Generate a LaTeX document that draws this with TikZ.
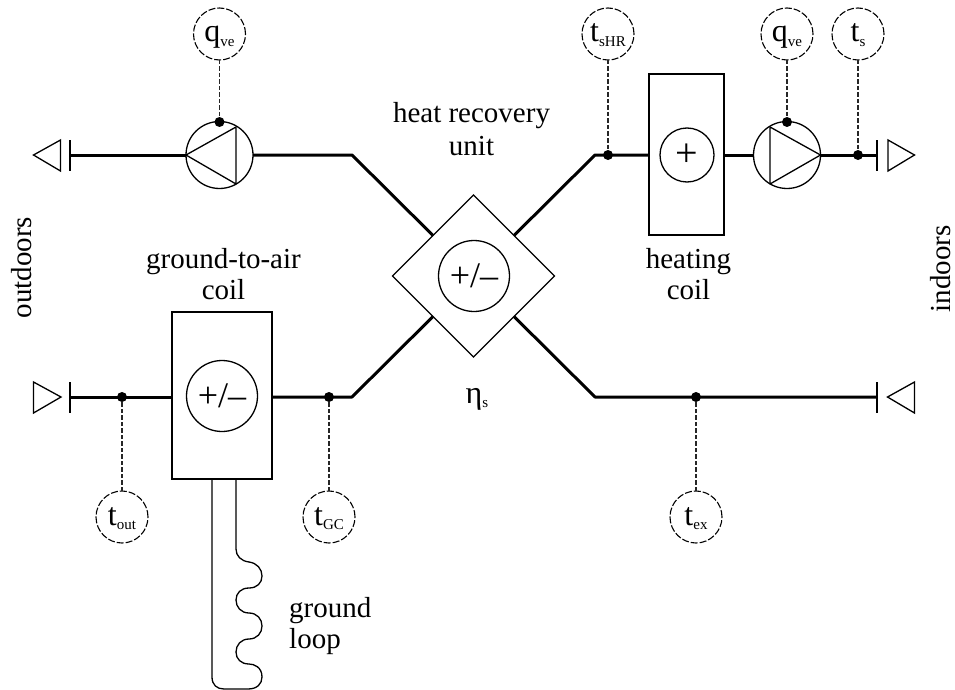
\documentclass[tikz,border=0pt]{standalone}
\usepackage{fontspec}
\setmainfont{Liberation Serif}
\usetikzlibrary{shapes.geometric}
\newcommand{\subt}[2]{#1{\fontsize{15}{15}\selectfont\raisebox{-0.3em}{#2}}}
\tikzset{
  thinln/.style={line width=1.3pt,black},
  pipe/.style={line width=3pt,black,line join=round},
  senseln/.style={line width=1.3pt,black!85,dash pattern=on 4.5pt off 2pt},
  sensor/.style={circle,draw,line width=1.1pt,dash pattern=on 7pt off 2pt,minimum size=52pt,inner sep=0pt,outer sep=0pt,font=\fontsize{32}{32}\selectfont,text height=16pt,text depth=0pt},
  jdot/.style={circle,fill=black,minimum size=10pt,inner sep=0pt,outer sep=0pt},
  unitc/.style={circle,draw,thinln,inner sep=0pt,outer sep=0pt},
  boxn/.style={rectangle,draw,thinln,fill=white,inner sep=0pt,outer sep=0pt},
  lbl/.style={font=\fontsize{29}{29}\selectfont,inner sep=0pt,anchor=base},
  sym/.style={font=\fontsize{36}{36}\selectfont,inner sep=0pt}
}
\begin{document}
\begin{tikzpicture}[x=1pt,y=-1pt]
\useasboundingbox (0,0) rectangle (955,690);
\fill[white] (0,0) rectangle (955,690);
% named points
\coordinate (barTL) at (70,155);
\coordinate (barBL) at (70,397);
\coordinate (barTR) at (877,155);
\coordinate (barBR) at (877,397);
\coordinate (bendTL) at (352,155);
\coordinate (bendBL) at (352,397);
\coordinate (bendTR) at (595,155);
\coordinate (bendBR) at (595,397);
% units
\node[boxn,minimum width=100pt,minimum height=167pt] (gac) at (222,395.5) {};
\node[boxn,minimum width=75pt,minimum height=161pt] (heat) at (686.5,154.5) {};
\node[diamond,draw,thinln,aspect=1,minimum width=162pt,minimum height=162pt,inner sep=0pt,outer sep=0pt] (dia) at (473.5,276) {};
\node[unitc,minimum size=71pt,sym] (diaC) at (474,276) {+/–};
\node[unitc,minimum size=71pt,sym] (gacC) at (222,396) {+/–};
\node[unitc,minimum size=54pt,font=\fontsize{40}{40}\selectfont] (heatC) at (687,155) {+};
\node[unitc,minimum size=67pt] (pumpL) at (219.5,155) {};
\node[unitc,minimum size=67pt] (pumpR) at (787,155) {};
% pipes
\draw[pipe] (barTL) -- (pumpL.west);
\draw[pipe] (pumpL.east) -- (bendTL) -- (dia.north west);
\draw[pipe] (dia.north east) -- (bendTR) -- (heat.west |- bendTR);
\draw[pipe] (heat.east |- bendTR) -- (pumpR.west);
\draw[pipe] (pumpR.east) -- (barTR);
\draw[pipe] (barBL) -- (gac.west |- barBL);
\draw[pipe] (gac.east |- barBL) -- (bendBL) -- (dia.south west);
\draw[pipe] (dia.south east) -- (bendBR) -- (barBR);
% pump triangles
\draw[thinln,line join=round] (pumpL.west) -- (236,127) -- (236,184) -- cycle;
\draw[thinln,line join=round] (pumpR.east) -- (770,127) -- (770,184) -- cycle;
% end bars and arrows
\draw[thinln] (70,140) -- (70,171);
\draw[thinln] (70,382) -- (70,413);
\draw[thinln] (877,140) -- (877,171);
\draw[thinln] (877,382) -- (877,413);
\draw[thinln] (33.5,155) -- (60.5,140) -- (60.5,171) -- cycle;
\draw[thinln] (33.5,382) -- (61,397) -- (33.5,413) -- cycle;
\draw[thinln] (888,140) -- (914.5,155) -- (888,171) -- cycle;
\draw[thinln] (914.5,382) -- (887.5,397) -- (914.5,413) -- cycle;
% sensors
\node[sensor] (sq1) at (219.5,34) {\subt{q}{ve}};
\node[sensor] (ssHR) at (608,34) {\subt{t}{sHR}};
\node[sensor] (sq2) at (787,34) {\subt{q}{ve}};
\node[sensor] (ss) at (858,34) {\subt{t}{s}};
\node[sensor] (sout) at (122,517) {\subt{t}{out}};
\node[sensor] (sGC) at (329,517) {\subt{t}{GC}};
\node[sensor] (sex) at (696,517) {\subt{t}{ex}};
\node[jdot] (d1) at (219.5,122) {};
\node[jdot] (d2) at (608,155) {};
\node[jdot] (d3) at (787,122) {};
\node[jdot] (d4) at (858,155) {};
\node[jdot] (d5) at (122,397) {};
\node[jdot] (d6) at (329,397) {};
\node[jdot] (d7) at (696,397) {};
\draw[senseln] (sq1) -- (d1);
\draw[senseln] (ssHR) -- (d2);
\draw[senseln] (sq2) -- (d3);
\draw[senseln] (ss) -- (d4);
\draw[senseln] (sout) -- (d5);
\draw[senseln] (sGC) -- (d6);
\draw[senseln] (sex) -- (d7);
% ground loop
\draw[thinln] (212,479) -- (212,677)
  .. controls (212,685) and (217,689) .. (224,689)
  -- (248,689)
  .. controls (257,689) and (262,684) .. (262,677)
  .. controls (262,667) and (254,664) .. (249,664)
  .. controls (241,664) and (236,659) .. (236,652)
  .. controls (236,645) and (241,639) .. (249,639)
  .. controls (257,639) and (262,633) .. (262,626)
  .. controls (262,619) and (257,613) .. (249,613)
  .. controls (241,613) and (236,607) .. (236,600)
  .. controls (236,593) and (241,588) .. (249,588)
  .. controls (257,588) and (262,583) .. (262,576)
  .. controls (262,569) and (257,563) .. (249,562)
  .. controls (241,561) and (236,556) .. (236,549)
  -- (236,479);
% labels
\node[lbl] (t1) at (471.5,123) {heat recovery};
\node[lbl] (t2) at (471.5,155) {unit};
\node[lbl] (t3) at (223.5,268) {ground-to-air};
\node[lbl] (t4) at (223.5,299) {coil};
\node[lbl] (t5) at (688.5,268) {heating};
\node[lbl] (t6) at (688.5,299) {coil};
\node[lbl,anchor=base west] (t7) at (289,617) {ground};
\node[lbl,anchor=base west] (t8) at (289,648) {loop};
\node[lbl,rotate=90] (t9) at (31,267.5) {outdoors};
\node[lbl,rotate=90] (t10) at (950,269) {indoors};
\node[lbl,anchor=base] (t11) at (477,403) {\subt{\fontsize{32}{32}\selectfont η}{s}};
\end{tikzpicture}
\end{document}
